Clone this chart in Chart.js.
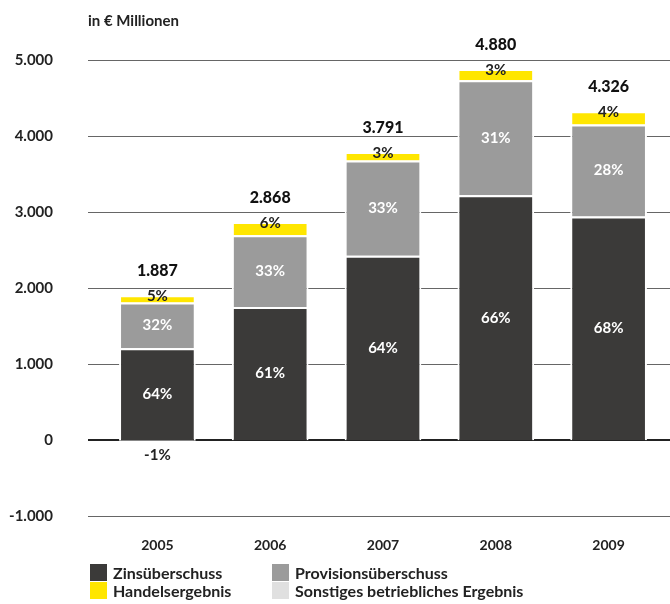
<!DOCTYPE html>
<html>
<head>
<meta charset="utf-8">
<script src="https://cdn.jsdelivr.net/npm/chart.js@4.4.1/dist/chart.umd.min.js"></script>
<style>
    body { margin: 0; background: #fff; }
    #wrap { position: relative; width: 670px; height: 604px; font-family: Lato, sans-serif; color: #222; }
    #einheit { position: absolute; left: 88px; top: 11px; font-size: 15px; font-weight: bold; }
    #legende { position: absolute; left: 90px; top: 564px; width: 560px; font-size: 16px; font-weight: bold; }
    .item { position: absolute; white-space: nowrap; line-height: 17px; }
    .item span { display: inline-block; width: 17px; height: 17px; vertical-align: top; margin-right: 6px; }
</style>
</head>
<body>
<div id="wrap">
    <canvas id="ertrag_chart" width="670" height="604"></canvas>
    <div id="einheit">in € Millionen</div>
    <div id="legende"></div>
</div>
<script>
// Daten (in € Millionen)
var jahre = ['2005', '2006', '2007', '2008', '2009'];
var zinsueberschuss = [1208, 1750, 2426, 3221, 2942];
var provisionsueberschuss = [604, 946, 1251, 1513, 1211];
var handelsergebnis = [94, 172, 114, 146, 173];
var sonstiges = [-19, 0, 0, 0, 0];
var y_ticks = [-1000, 0, 1000, 2000, 3000, 4000, 5000];

var farben = ['#3b3a39', '#9b9b9b', '#ffe600', '#e0e0e0'];
var namen = ['Zinsüberschuss', 'Provisionsüberschuss', 'Handelsergebnis', 'Sonstiges betriebliches Ergebnis'];
var reihen = [zinsueberschuss, provisionsueberschuss, handelsergebnis, sonstiges];

function zahl(v) {
    return v.toString().replace(/\B(?=(\d{3})+(?!\d))/g, '.');
}

var summen = jahre.map(function (j, i) {
    return zinsueberschuss[i] + provisionsueberschuss[i] + handelsergebnis[i] + sonstiges[i];
});

/* --------------------- Gitterlinien --------------------- */
var gitter = {
    id: 'gitter',
    beforeDatasetsDraw: function (chart) {
        var ctx = chart.ctx;
        var y = chart.scales.y;
        ctx.save();
        y_ticks.forEach(function (t) {
            var py = Math.round(y.getPixelForValue(t));
            ctx.beginPath();
            if (t == 0) {
                ctx.strokeStyle = '#222';
                ctx.lineWidth = 2;
            } else {
                ctx.strokeStyle = '#666';
                ctx.lineWidth = 1;
                py += 0.5;
            }
            ctx.moveTo(88, py);
            ctx.lineTo(670, py);
            ctx.stroke();
        });
        ctx.restore();
    }
};

/* --------------------- Beschriftungen --------------------- */
var beschriftung = {
    id: 'beschriftung',
    afterDatasetsDraw: function (chart) {
        var ctx = chart.ctx;
        ctx.save();
        ctx.textAlign = 'center';
        ctx.textBaseline = 'middle';
        chart.data.datasets.forEach(function (ds, d) {
            var meta = chart.getDatasetMeta(d);
            meta.data.forEach(function (bar, i) {
                var v = ds.data[i];
                if (!v) return;
                var pct = Math.round(v / summen[i] * 100) + '%';
                var py = (bar.y + bar.base) / 2;
                ctx.font = 'bold 15px Lato';
                if (d < 2) {
                    ctx.fillStyle = '#fff';
                } else if (d == 2) {
                    ctx.fillStyle = '#222';
                    py = bar.y + 1;
                } else {
                    ctx.fillStyle = '#222';
                    py = bar.base + 15;
                }
                ctx.fillText(pct, bar.x, py);
            });
        });
        // Summen über den Säulen
        var top = chart.getDatasetMeta(2);
        ctx.fillStyle = '#111';
        ctx.font = '900 16px Lato';
        top.data.forEach(function (bar, i) {
            ctx.fillText(zahl(summen[i]), bar.x, bar.y - 24);
        });
        ctx.restore();
    }
};

var ctx = document.getElementById('ertrag_chart').getContext('2d');
var chart = new Chart(ctx, {
    type: 'bar',
    data: {
        labels: jahre,
        datasets: reihen.map(function (r, i) {
            return {
                label: namen[i],
                data: r,
                backgroundColor: farben[i],
                borderColor: '#fff',
                borderWidth: 2,
                categoryPercentage: 1,
                barPercentage: 0.68
            };
        })
    },
    options: {
        responsive: false,
        animation: false,
        layout: { padding: { top: 60, right: 5, bottom: 37, left: 0 } },
        plugins: { legend: { display: false }, tooltip: { enabled: false } },
        scales: {
            x: {
                stacked: true,
                grid: { display: false },
                border: { display: false },
                ticks: { color: '#222', font: { family: 'Lato', size: 14, weight: 'bold' }, padding: 13 }
            },
            y: {
                stacked: true,
                min: -1000,
                max: 5000,
                afterFit: function (scale) { scale.width = 101; },
                afterBuildTicks: function (scale) {
                    scale.ticks = y_ticks.map(function (t) { return { value: t }; });
                },
                grid: { display: false },
                border: { display: false },
                ticks: {
                    color: '#222',
                    padding: 40,
                    font: { family: 'Lato', size: 15, weight: 'bold' },
                    callback: function (v) { return zahl(v); }
                }
            }
        }
    },
    plugins: [gitter, beschriftung]
});

/* --------------------- Legende --------------------- */
var legende = document.getElementById('legende');
var pos = [[0, 0], [182, 0], [0, 18], [182, 18]];
namen.forEach(function (n, i) {
    var el = document.createElement('div');
    el.className = 'item';
    el.style.left = pos[i][0] + 'px';
    el.style.top = pos[i][1] + 'px';
    el.innerHTML = '<span style="background:' + farben[i] + '"></span>' + n;
    legende.appendChild(el);
});
</script>
</body>
</html>
